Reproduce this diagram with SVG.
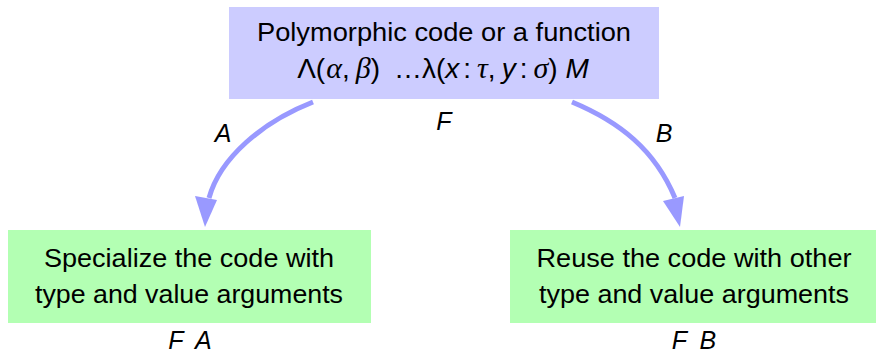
<svg xmlns="http://www.w3.org/2000/svg" width="877" height="353" viewBox="0 0 877 353">
<style>
.t{font-family:"Liberation Sans","DejaVu Sans",sans-serif;font-size:25px;fill:#000;text-anchor:middle}
.m{font-size:28px}
.i{font-style:italic}
.g{font-family:"Liberation Serif",serif;font-style:italic;font-size:30px}
.c{fill:none;stroke:#9999ff;stroke-width:5}
.h{fill:#9999ff}
</style>
<rect width="877" height="353" fill="#fff"/>
<g id="top">
<rect x="229" y="7" width="430" height="92" fill="#ccccff"/>
<text class="t" x="444" y="41" textLength="374" lengthAdjust="spacingAndGlyphs">Polymorphic code or a function</text>
<text class="t m" x="443" y="78">Λ(<tspan class="g" dx="1">α</tspan>,<tspan class="g" dx="6">β</tspan>)<tspan dx="14">…λ(</tspan><tspan class="i">x</tspan><tspan dx="4">:</tspan><tspan class="g" dx="6">τ</tspan>,<tspan class="i" dx="6">y</tspan><tspan dx="4">:</tspan><tspan class="g" dx="6">σ</tspan>)<tspan class="i" dx="8">M</tspan></text>
<text class="t i" x="444" y="130">F</text>
</g>
<g id="left">
<rect x="8" y="230" width="363" height="93" fill="#b3ffb3"/>
<text class="t" x="189" y="267" textLength="290" lengthAdjust="spacingAndGlyphs">Specialize the code with</text>
<text class="t" x="189" y="303" textLength="308" lengthAdjust="spacingAndGlyphs">type and value arguments</text>
<text class="t i" x="190" y="349">F <tspan dx="6">A</tspan></text>
</g>
<g id="right">
<rect x="510" y="230" width="366" height="93" fill="#b3ffb3"/>
<text class="t" x="694" y="267" textLength="315" lengthAdjust="spacingAndGlyphs">Reuse the code with other</text>
<text class="t" x="694" y="303" textLength="310" lengthAdjust="spacingAndGlyphs">type and value arguments</text>
<text class="t i" x="694" y="349">F <tspan dx="6">B</tspan></text>
</g>
<g id="connectors">
<path class="c" d="M313,102 C262,122 220,158 209,198"/>
<polygon class="h" points="205,227 195,196 217,200"/>
<text class="t i" x="223" y="142">A</text>
<path class="c" d="M572,102 C620,122 655,150 675,198"/>
<polygon class="h" points="680,227 663,201 684,196"/>
<text class="t i" x="664" y="142">B</text>
</g>
</svg>
